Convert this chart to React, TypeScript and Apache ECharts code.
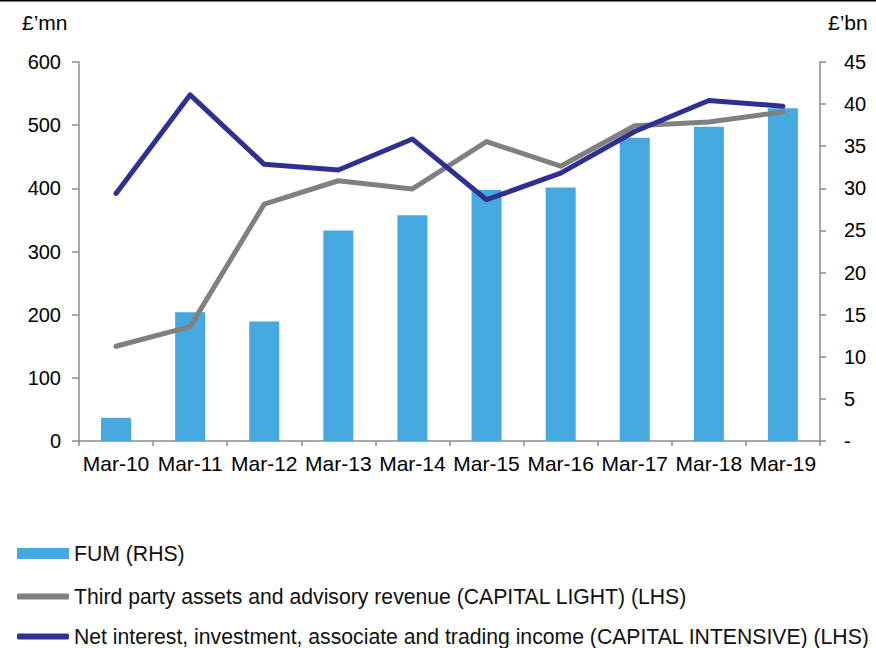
import React, { useEffect, useRef } from "react";
import * as echarts from "echarts";

const categories = ["Mar-10", "Mar-11", "Mar-12", "Mar-13", "Mar-14", "Mar-15", "Mar-16", "Mar-17", "Mar-18", "Mar-19"];
const fumValues = [2.75, 15.3, 14.2, 25.0, 26.8, 29.8, 30.1, 36.0, 37.3, 39.5];
const capitalLightValues = [150, 181, 375, 412, 399, 474, 435, 499, 505, 521];
const capitalIntensiveValues = [392, 548, 438, 429, 478, 382, 424, 490, 539, 530];

const fumName = "FUM (RHS)";
const lightName = "Third party assets and advisory revenue (CAPITAL LIGHT) (LHS)";
const intensiveName = "Net interest, investment, associate and trading income (CAPITAL INTENSIVE) (LHS)";
const leftUnit = "£’mn";
const rightUnit = "£’bn";

const FONT = "'Liberation Sans', Arial, sans-serif";
const AXIS_COLOR = "#8c8c8c";
const BAR_COLOR = "#45A8DE";
const GRAY = "#808080";
const NAVY = "#2E3192";

export default function App() {
  const ref = useRef<HTMLDivElement>(null);
  useEffect(() => {
    if (!ref.current) return;
    const chart = echarts.init(ref.current, null, { renderer: "svg" });
    const legendText = { fontSize: 21.2, color: "#111", fontFamily: FONT };
    chart.setOption({
      animation: false,
      textStyle: { fontFamily: FONT },
      grid: { left: 79, right: 56, top: 62, bottom: 207, containLabel: false },
      xAxis: {
        type: "category",
        data: categories,
        boundaryGap: true,
        axisLine: { lineStyle: { color: AXIS_COLOR, width: 1.5 } },
        axisTick: { show: true, length: 5, lineStyle: { color: AXIS_COLOR, width: 1.5 } },
        axisLabel: { color: "#000", fontSize: 21, margin: 12, interval: 0 },
      },
      yAxis: [
        {
          type: "value",
          min: 0,
          max: 600,
          interval: 100,
          position: "left",
          axisLine: { show: true, lineStyle: { color: AXIS_COLOR, width: 1.5 } },
          axisTick: { show: true, length: 7, lineStyle: { color: AXIS_COLOR, width: 1.5 } },
          splitLine: { show: false },
          axisLabel: { color: "#000", fontSize: 20, margin: 18 },
        },
        {
          type: "value",
          min: 0,
          max: 45,
          interval: 5,
          position: "right",
          axisLine: { show: true, lineStyle: { color: AXIS_COLOR, width: 1.5 } },
          axisTick: { show: true, length: 6, lineStyle: { color: AXIS_COLOR, width: 1.5 } },
          splitLine: { show: false },
          axisLabel: {
            color: "#000",
            fontSize: 20,
            margin: 24,
            formatter: (v: number) => (v === 0 ? "-" : String(v)),
          },
        },
      ],
      legend: [
        {
          data: [{ name: fumName, icon: "rect" }],
          left: 17,
          top: 543,
          padding: 0,
          itemWidth: 52,
          itemHeight: 11,
          textStyle: legendText,
          selectedMode: false,
        },
        {
          data: [{ name: lightName, icon: "roundRect" }],
          left: 17,
          top: 586,
          padding: 0,
          itemWidth: 52,
          itemHeight: 6,
          textStyle: legendText,
          selectedMode: false,
        },
        {
          data: [{ name: intensiveName, icon: "roundRect" }],
          left: 17,
          top: 626,
          padding: 0,
          itemWidth: 52,
          itemHeight: 6,
          textStyle: legendText,
          selectedMode: false,
        },
      ],
      graphic: [
        { type: "rect", left: 0, top: 0, shape: { width: 876, height: 1.5 }, style: { fill: "#000" } },
        {
          type: "text",
          left: 22,
          top: 12,
          style: { text: leftUnit, fontSize: 21, fill: "#000", fontFamily: FONT },
        },
        {
          type: "text",
          left: 828,
          top: 12,
          style: { text: rightUnit, fontSize: 21, fill: "#000", fontFamily: FONT },
        },
      ],
      series: [
        {
          name: fumName,
          type: "bar",
          yAxisIndex: 1,
          data: fumValues,
          barWidth: 30,
          itemStyle: { color: BAR_COLOR },
        },
        {
          name: lightName,
          type: "line",
          yAxisIndex: 0,
          data: capitalLightValues,
          symbol: "none",
          lineStyle: { color: GRAY, width: 5, cap: "round", join: "round" },
          itemStyle: { color: GRAY },
        },
        {
          name: intensiveName,
          type: "line",
          yAxisIndex: 0,
          data: capitalIntensiveValues,
          symbol: "none",
          lineStyle: { color: NAVY, width: 5, cap: "round", join: "round" },
          itemStyle: { color: NAVY },
        },
      ],
    });
    return () => chart.dispose();
  }, []);
  return (
    <div
      ref={ref}
      style={{ position: "fixed", left: 0, top: 0, width: 876, height: 648, background: "#fff" }}
    />
  );
}
